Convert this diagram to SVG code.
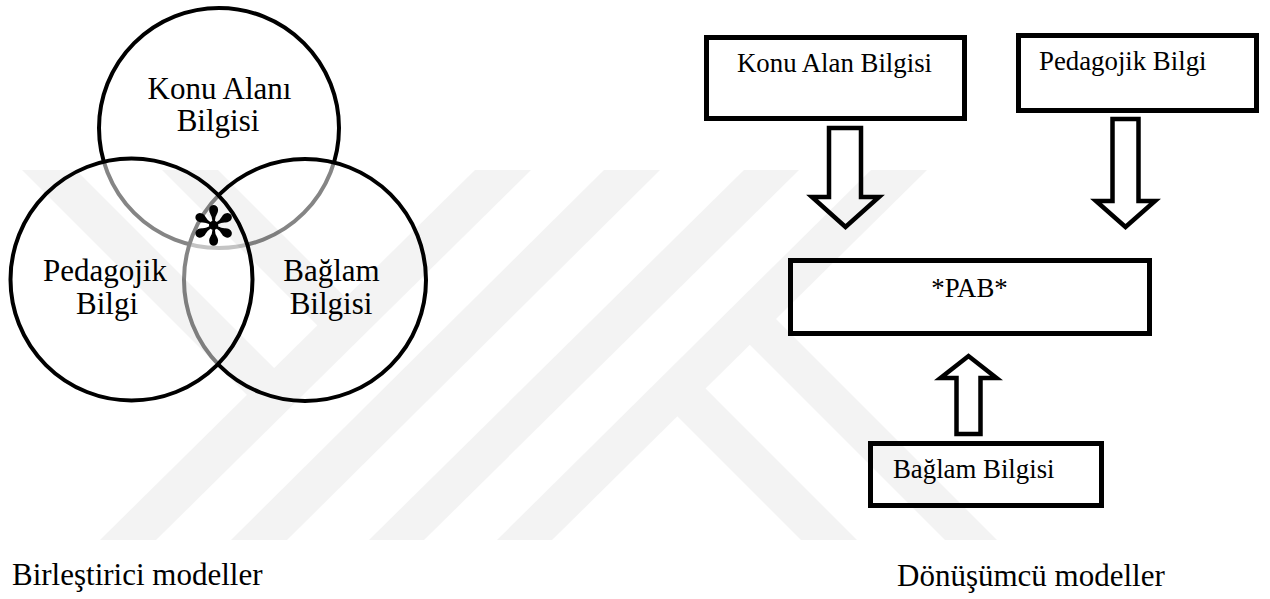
<svg xmlns="http://www.w3.org/2000/svg" width="1270" height="599" viewBox="0 0 1270 599" font-family="'Liberation Serif', 'Times New Roman', serif">
  <style>
    text { font-family: 'Liberation Serif', 'Times New Roman', serif; fill: #000; }
    .venn { fill: #fff; fill-opacity: 0.52; stroke: #000; stroke-width: 4; }
    .venn-label { font-size: 31px; text-anchor: middle; }
    .star { font-family: 'DejaVu Sans', sans-serif; font-size: 54px; text-anchor: middle; }
    .box { fill: #fff; stroke: #000; stroke-width: 5; stroke-linejoin: miter; }
    .box-label { font-size: 26.8px; }
    .block-arrow { fill: #fff; stroke: #000; stroke-width: 4.5; stroke-linejoin: miter; stroke-miterlimit: 10; }
    .caption { font-size: 31px; }
  </style>

  <rect x="0" y="0" width="1270" height="599" fill="#fff"/>

  <!-- Integrative model: three overlapping knowledge domains -->
  <g id="venn">
    <g id="node-konu-alani">
      <circle class="venn" cx="219" cy="128" r="120"/>
    </g>
    <g id="node-baglam">
      <circle class="venn" cx="305" cy="280" r="121"/>
    </g>
    <g id="node-pedagojik">
      <circle class="venn" cx="131.5" cy="279.5" r="121"/>
    </g>
    <text class="venn-label" x="219.5" y="99">Konu Alanı</text>
    <text class="venn-label" x="218" y="131">Bilgisi</text>
    <text class="venn-label" x="105" y="281">Pedagojik</text>
    <text class="venn-label" x="107" y="314">Bilgi</text>
    <text class="venn-label" x="331.5" y="281">Bağlam</text>
    <text class="venn-label" x="331" y="314">Bilgisi</text>
    <g id="node-intersection">
      <text class="star" x="213.5" y="245">✻</text>
    </g>
  </g>

  <!-- Transformative model: boxes feeding into PAB -->
  <g id="node-konu-alan-box">
    <rect class="box" x="706.5" y="37.5" width="258" height="81"/>
    <text class="box-label" x="737" y="72">Konu Alan Bilgisi</text>
  </g>
  <g id="node-pedagojik-box">
    <rect class="box" x="1018.5" y="35.5" width="238" height="75"/>
    <text class="box-label" x="1039" y="70">Pedagojik Bilgi</text>
  </g>
  <g id="node-pab">
    <rect class="box" x="790.5" y="260.5" width="359" height="73"/>
    <text class="box-label" x="969.5" y="297" text-anchor="middle">*PAB*</text>
  </g>
  <g id="node-baglam-box">
    <rect class="box" x="870.5" y="443.5" width="231" height="62"/>
    <text class="box-label" x="893" y="478">Bağlam Bilgisi</text>
  </g>

  <g id="connectors">
    <polygon class="block-arrow" points="829,128 861,128 861,197 879,197 845.5,227 812,197 829,197"/>
    <polygon class="block-arrow" points="1112.5,119 1138.5,119 1138.5,201 1155,201 1125.5,227 1096,201 1112.5,201"/>
    <polygon class="block-arrow" points="956.5,434 980.5,434 980.5,378 996.5,378 968.5,356 940.5,378 956.5,378"/>
  </g>

  <!-- Captions -->
  <text class="caption" x="12" y="585">Birleştirici modeller</text>
  <text class="caption" x="897" y="586">Dönüşümcü modeller</text>

  <!-- Faint striped emblem laid over the page -->
  <g id="emblem" opacity="0.045" fill="#000">
    <polygon points="100,540 156,540 531,170 475,170"/>
    <polygon points="231,540 287,540 660,170 604,170"/>
    <polygon points="369,540 424,540 799,170 744,170"/>
    <polygon points="497,540 552,540 927,170 871,170"/>
    <polygon points="22,170 76,170 288.1,382.1 260.9,408.9"/>
    <polygon points="162,170 218,170 359.5,311.5 331.4,339.4"/>
    <polygon points="762.2,305.2 997,540 945,540 736,331"/>
    <polygon points="691.8,374.8 857,540 801,540 663.6,402.6"/>
  </g>
</svg>
